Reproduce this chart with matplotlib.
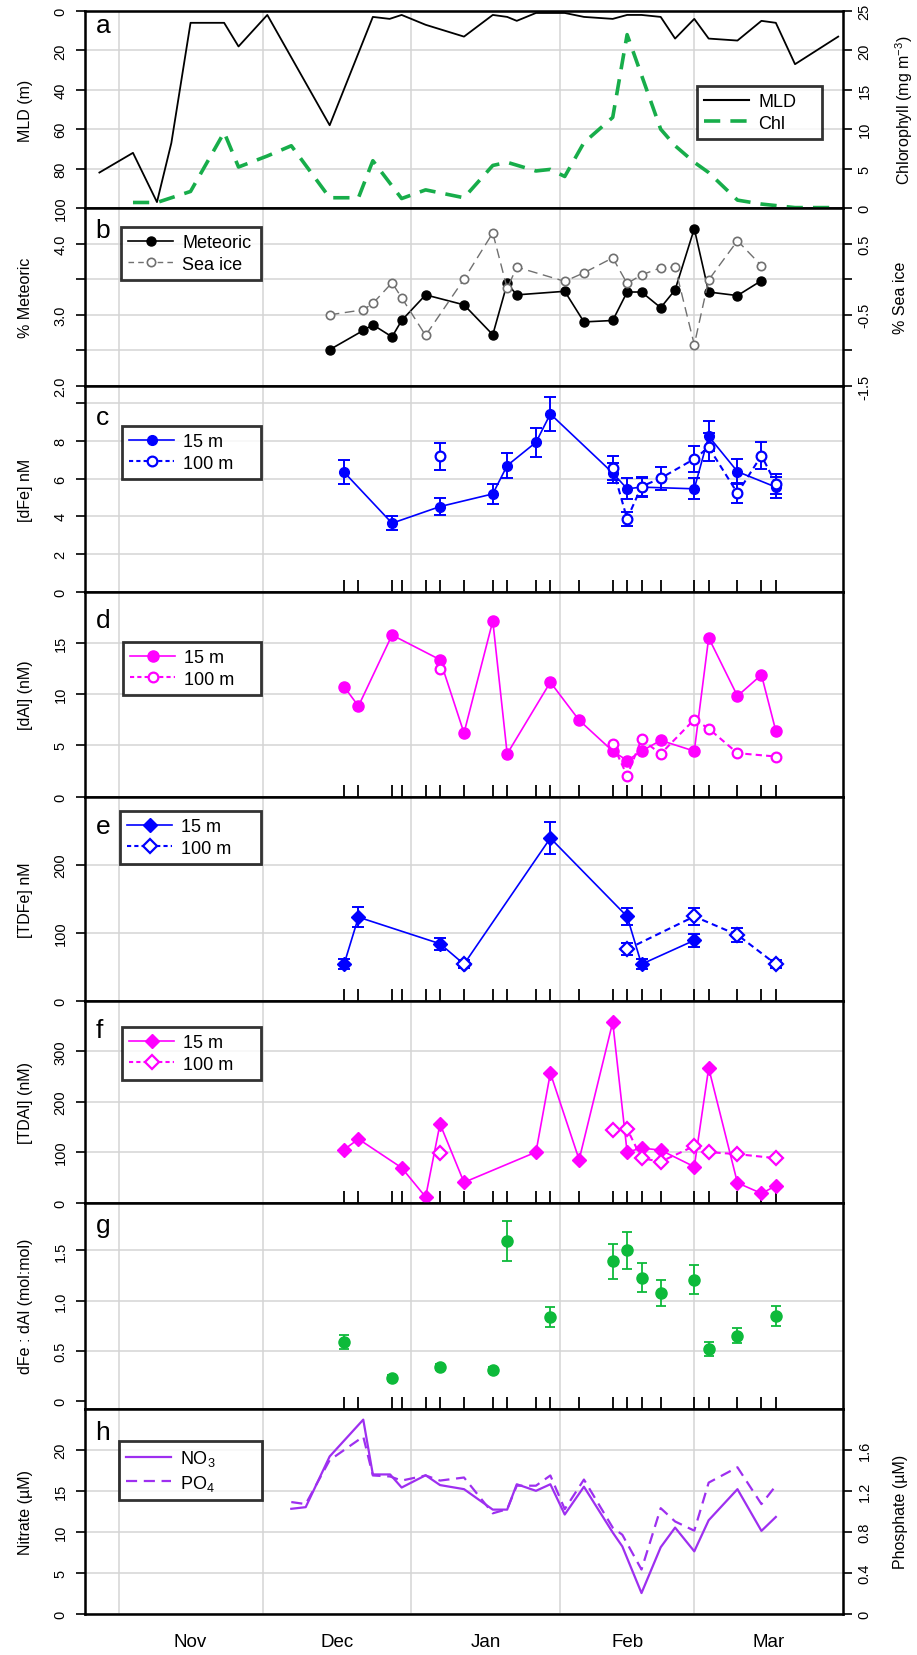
import numpy as np
import matplotlib.pyplot as plt
from matplotlib.lines import Line2D

plt.rcParams['font.family'] = ['Liberation Sans', 'DejaVu Sans']
plt.rcParams['mathtext.fontset'] = 'custom'
plt.rcParams['mathtext.rm'] = 'Liberation Sans'
plt.rcParams['mathtext.default'] = 'regular'

# x axis = days after 1 Nov
month_start = [0, 30, 61, 92, 120]
month_mid = [15, 45.5, 76.5, 106, 135.5]
month_names = ['Nov', 'Dec', 'Jan', 'Feb', 'Mar']

# sampling dates (rug marks)
samp_day = [47, 50, 57, 59, 64, 67, 72, 78, 81, 87, 90, 96, 103, 106, 109, 113, 120, 123, 129, 134, 137]

# a: mixed layer depth and chlorophyll
mld_day = [-4, 3, 8, 11, 15, 22, 25, 31, 44, 53, 56.5, 59, 64, 72, 78, 81, 83, 87, 93, 97,
           103, 106, 109, 113, 116, 120, 123, 129, 134, 137, 141, 150]
mld = [82, 72, 97, 67, 6, 6, 18, 2, 58, 3, 4, 2, 7, 13, 2, 3, 5, 1, 1, 3,
       4, 2, 2, 3, 14, 4, 14, 15, 5, 6, 27, 13]
chl_day = [3, 8, 15, 22, 25, 31, 36, 44, 50, 53, 59, 64, 72, 78, 81, 87, 90, 93, 97,
           103, 106, 113, 116, 120, 123, 129, 134, 141, 150]
chl = [0.7, 0.7, 2.1, 9.6, 5.2, 6.6, 7.9, 1.3, 1.3, 6.0, 1.2, 2.3, 1.3, 5.4, 5.8, 4.7, 4.9, 4.0, 8.3,
       11.5, 22.0, 10.0, 7.9, 5.8, 4.5, 1.0, 0.5, 0.05, 0.05]

# b: meteoric water and sea ice melt
met_day = [44, 51, 53, 57, 59, 64, 72, 78, 81, 83, 93, 97, 103, 106, 109, 113, 116, 120, 123, 129, 134]
meteoric = [2.51, 2.78, 2.86, 2.69, 2.92, 3.28, 3.14, 2.72, 3.44, 3.28, 3.33, 2.90, 2.92, 3.32,
            3.32, 3.10, 3.35, 4.21, 3.32, 3.27, 3.48]
seaice = [-0.50, -0.43, -0.34, -0.05, -0.26, -0.79, 0.0, 0.65, -0.13, 0.17, -0.03, 0.09, 0.30,
          -0.06, 0.06, 0.16, 0.17, -0.92, -0.01, 0.54, 0.19]

# c: dissolved Fe
dfe15_day = [47, 57, 67, 78, 81, 87, 90, 103, 106, 109, 120, 123, 129, 137]
dfe15 = [6.34, 3.64, 4.52, 5.19, 6.69, 7.92, 9.42, 6.3, 5.46, 5.55, 5.46, 8.24, 6.37, 5.55]
dfe15_err = [0.65, 0.36, 0.44, 0.52, 0.65, 0.77, 0.92, 0.55, 0.55, 0.5, 0.56, 0.8, 0.65, 0.55]
dfe100_day = [67, 103, 106, 109, 113, 120, 123, 129, 134, 137]
dfe100 = [7.17, 6.55, 3.87, 5.58, 6.02, 7.04, 7.66, 5.23, 7.22, 5.72]
dfe100_err = [0.7, 0.65, 0.38, 0.5, 0.62, 0.68, 0.73, 0.53, 0.7, 0.53]

# d: dissolved Al
dal15_day = [47, 50, 57, 67, 72, 78, 81, 90, 96, 103, 106, 109, 113, 120, 123, 129, 134, 137]
dal15 = [10.74, 8.84, 15.79, 13.38, 6.21, 17.17, 4.17, 11.18, 7.46, 4.44, 3.52, 4.44, 5.49,
         4.44, 15.52, 9.83, 11.9, 6.41]
dal100_day = [67, 103, 106, 109, 113, 120, 123, 129, 137]
dal100 = [12.46, 5.10, 2.04, 5.59, 4.17, 7.53, 6.64, 4.24, 3.91]

# e: total dissolvable Fe
tdfe15_day = [47, 50, 67, 72, 90, 106, 109, 120]
tdfe15 = [54, 123, 84, 54, 239, 124, 54, 89]
tdfe15_err = [7, 15, 9, 6, 24, 13, 7, 10]
tdfe100_day = [72, 106, 120, 129, 137]
tdfe100 = [54, 76, 124, 97, 54]
tdfe100_err = [6, 8.5, 13, 10, 6]

# f: total dissolvable Al
tdal15_day = [47, 50, 59, 64, 67, 72, 87, 90, 96, 103, 106, 109, 113, 120, 123, 129, 134, 137]
tdal15 = [105, 126, 69, 11, 156, 40, 100, 257, 85, 358, 100, 108, 104, 71, 267, 39, 18, 33]
tdal100_day = [67, 103, 106, 109, 113, 120, 123, 129, 137]
tdal100 = [98, 143, 146, 88, 81, 112, 100, 96, 88]

# g: dFe:dAl ratio
ratio_day = [47, 57, 67, 78, 81, 90, 103, 106, 109, 113, 120, 123, 129, 137]
ratio = [0.59, 0.23, 0.34, 0.31, 1.59, 0.84, 1.39, 1.50, 1.23, 1.08, 1.21, 0.52, 0.65, 0.85]
ratio_err = [0.07, 0.03, 0.03, 0.03, 0.2, 0.1, 0.17, 0.18, 0.145, 0.13, 0.145, 0.07, 0.075, 0.1]

# h: nutrients
nut_day = [36, 39, 44, 51, 53, 56.6, 59, 64, 67, 72, 78, 81, 83, 87, 90, 93, 97, 103, 105,
           109, 113, 116, 120, 123, 129, 134, 137]
nitrate = [12.8, 13.0, 19.2, 23.7, 17.0, 17.0, 15.4, 16.9, 15.7, 15.2, 12.7, 12.7, 15.8, 15.0,
           15.8, 12.1, 15.5, 9.9, 8.2, 2.5, 8.1, 10.5, 7.6, 11.4, 15.2, 10.1, 11.8]
phosphate = [1.09, 1.07, 1.50, 1.73, 1.35, 1.34, 1.30, 1.35, 1.30, 1.33, 0.98, 1.02, 1.25, 1.25,
             1.35, 1.02, 1.31, 0.84, 0.77, 0.43, 1.03, 0.90, 0.81, 1.28, 1.43, 1.07, 1.25]

GRID = '#d4d4d4'
BLUE = '#0000ff'
MAG = '#ff00ff'
GREEN = '#0dba3a'
CHLG = '#17ad4a'
PURP = '#9e2ff0'

W, H = 917, 1656
fig = plt.figure(figsize=(W / 100, H / 100), dpi=100)
X0, X1 = 85, 843


def make_ax(top, bot):
    ax = fig.add_axes([X0 / W, 1 - bot / H, (X1 - X0) / W, (bot - top) / H])
    ax.set_xlim(-7, 151)
    for s in ax.spines.values():
        s.set_linewidth(1.8)
    for m in month_start:
        ax.axvline(m, color=GRID, lw=1.1, zorder=0)
    return ax


def style_y(ax, ticks, labels, ylabel, ylim, right=False, grid=None):
    ax.set_ylim(*ylim)
    ax.set_yticks(ticks, labels)
    ax.tick_params(axis='y', direction='out', length=6.5, width=1.2,
                   pad=4 if right else 6, labelsize=10.5, labelrotation=90)
    for lab in ax.get_yticklabels():
        lab.set_va('center')
    ax.set_ylabel(ylabel, fontsize=11.5)
    if right:
        ax.yaxis.set_label_coords(1.066, 0.5)
    else:
        ax.yaxis.set_label_coords(-0.069, 0.5)
    for g in (ticks if grid is None else grid):
        ax.axhline(g, color=GRID, lw=1.1, zorder=0)


def rug(ax, bottom=False):
    ax.set_xticks(samp_day)
    ax.tick_params(axis='x', direction='inout' if bottom else 'in',
                   length=16 if bottom else 8.5, width=1.3, labelbottom=False)


def letter(ax, s, below):
    ax.text(0.014, 1 - below / ax.bbox.height, s, transform=ax.transAxes,
            fontsize=19, va='baseline', ha='left')


def add_legend(ax, handles, labels, x0, y0, w, fs=13):
    leg = ax.legend(handles, labels, loc='upper left',
                    bbox_to_anchor=(x0 / W, 1 - y0 / H, w / W, 0),
                    bbox_transform=fig.transFigure, mode='expand', frameon=True,
                    fancybox=False, edgecolor='black', fontsize=fs, handlelength=2.5,
                    handletextpad=0.5, borderpad=0.4, labelspacing=0.25, borderaxespad=0)
    leg.get_frame().set_linewidth(2)
    leg.set_zorder(10)
    return leg


# ---------- a ----------
ax = make_ax(12, 209)
ax.plot(mld_day, mld, color='black', lw=1.3)
style_y(ax, [0, 20, 40, 60, 80, 100], ['0', '20', '40', '60', '80', '100'], 'MLD (m)', (100, 0))
ax.set_xticks([])
ax2 = ax.twinx()
ax2.plot(chl_day, chl, color=CHLG, lw=2.6, dashes=(4.5, 2.8))
style_y(ax2, [0, 5, 10, 15, 20, 25], ['0', '5', '10', '15', '20', '25'],
        'Chlorophyll (mg m$^{-3}$)', (0, 25), right=True, grid=[])
ax2.set_xticks([])
letter(ax, 'a', 21)
add_legend(ax2, [Line2D([], [], color='black', lw=1.5),
                 Line2D([], [], color=CHLG, lw=2.6, dashes=(4.5, 2.8))],
           ['MLD', 'Chl'], 697, 87, 125)

# ---------- b ----------
ax = make_ax(209, 387)
ax.plot(met_day, meteoric, '-o', color='black', lw=1.2, ms=6.5, zorder=3)
style_y(ax, [2.0, 2.5, 3.0, 3.5, 4.0], ['2.0', '', '3.0', '', '4.0'], '% Meteoric', (2.0, 4.5))
rug(ax)
ax2 = ax.twinx()
ax2.plot(met_day, seaice, '-o', color='#707070', lw=1.0, dashes=(7, 4), ms=6,
         mfc='white', mec='#707070', mew=1.2)
style_y(ax2, [-1.5, -1.0, -0.5, 0.0, 0.5], ['-1.5', '', '-0.5', '', '0.5'], '% Sea ice',
        (-1.5, 1.0), right=True, grid=[])
ax2.set_xticks([])
letter(ax, 'b', 29)
add_legend(ax2, [Line2D([], [], color='black', lw=1.2, marker='o', ms=6.5),
                 Line2D([], [], color='#707070', lw=1.0, dashes=(4, 3), marker='o', ms=6,
                        mfc='white', mew=1.2)],
           ['Meteoric', 'Sea ice'], 121, 228, 140)

# ---------- c ----------
ax = make_ax(387, 593)
ax.errorbar(dfe15_day, dfe15, yerr=dfe15_err, fmt='none', ecolor=BLUE, elinewidth=1.4,
            capsize=4, capthick=1.4)
ax.errorbar(dfe100_day, dfe100, yerr=dfe100_err, fmt='none', ecolor=BLUE, elinewidth=1.4,
            capsize=4, capthick=1.4)
ax.plot(dfe15_day, dfe15, '-o', color=BLUE, lw=1.2, ms=7, zorder=3)
ax.plot(dfe100_day[1:], dfe100[1:], color=BLUE, lw=1.5, dashes=(3, 2), zorder=3)
ax.plot(dfe100_day, dfe100, 'o', color=BLUE, ms=7, mfc='white', mew=1.6, zorder=4)
style_y(ax, [0, 2, 4, 6, 8, 10], ['0', '2', '4', '6', '8', ''], '[dFe] nM', (0, 10.9))
rug(ax)
letter(ax, 'c', 38)
add_legend(ax, [Line2D([], [], color=BLUE, lw=1.2, marker='o', ms=7),
                Line2D([], [], color=BLUE, lw=1.5, dashes=(2, 1.5), marker='o', ms=7,
                       mfc='white', mew=1.6)],
           ['15 m', '100 m'], 122, 427, 139)

# ---------- d ----------
ax = make_ax(593, 797.5)
ax.plot(dal15_day, dal15, '-o', color=MAG, lw=1.2, ms=8, zorder=3)
ax.plot(dal100_day[1:], dal100[1:], color=MAG, lw=1.5, dashes=(3, 2), zorder=3)
ax.plot(dal100_day, dal100, 'o', color=MAG, ms=7, mfc='white', mew=1.6, zorder=4)
style_y(ax, [0, 5, 10, 15], ['0', '5', '10', '15'], '[dAl] (nM)', (0, 20))
rug(ax)
letter(ax, 'd', 35)
add_legend(ax, [Line2D([], [], color=MAG, lw=1.2, marker='o', ms=8),
                Line2D([], [], color=MAG, lw=1.5, dashes=(2, 1.5), marker='o', ms=7,
                       mfc='white', mew=1.6)],
           ['15 m', '100 m'], 123, 643, 138)

# ---------- e ----------
ax = make_ax(797.5, 1002)
ax.errorbar(tdfe15_day, tdfe15, yerr=tdfe15_err, fmt='none', ecolor=BLUE, elinewidth=1.4,
            capsize=4, capthick=1.4)
ax.errorbar(tdfe100_day, tdfe100, yerr=tdfe100_err, fmt='none', ecolor=BLUE, elinewidth=1.4,
            capsize=4, capthick=1.4)
ax.plot(tdfe15_day, tdfe15, '-D', color=BLUE, lw=1.2, ms=7, zorder=3)
ax.plot(tdfe100_day[1:], tdfe100[1:], color=BLUE, lw=1.5, dashes=(3, 2), zorder=3)
ax.plot(tdfe100_day, tdfe100, 'D', color=BLUE, ms=7, mfc='white', mew=1.6, zorder=4)
style_y(ax, [0, 100, 200], ['0', '100', '200'], '[TDFe] nM', (0, 300))
rug(ax)
letter(ax, 'e', 36)
add_legend(ax, [Line2D([], [], color=BLUE, lw=1.2, marker='D', ms=7),
                Line2D([], [], color=BLUE, lw=1.5, dashes=(2, 1.5), marker='D', ms=7,
                       mfc='white', mew=1.6)],
           ['15 m', '100 m'], 120, 812, 141)

# ---------- f ----------
ax = make_ax(1002, 1203.5)
ax.plot(tdal15_day, tdal15, '-D', color=MAG, lw=1.2, ms=7, zorder=3)
ax.plot(tdal100_day[1:], tdal100[1:], color=MAG, lw=1.5, dashes=(3, 2), zorder=3)
ax.plot(tdal100_day, tdal100, 'D', color=MAG, ms=7, mfc='white', mew=1.6, zorder=4)
style_y(ax, [0, 100, 200, 300], ['0', '100', '200', '300'], '[TDAl] (nM)', (0, 400))
rug(ax)
letter(ax, 'f', 36)
add_legend(ax, [Line2D([], [], color=MAG, lw=1.2, marker='D', ms=7),
                Line2D([], [], color=MAG, lw=1.5, dashes=(2, 1.5), marker='D', ms=7,
                       mfc='white', mew=1.6)],
           ['15 m', '100 m'], 122, 1028, 139)

# ---------- g ----------
ax = make_ax(1203.5, 1410)
ax.errorbar(ratio_day, ratio, yerr=ratio_err, fmt='o', color=GREEN, ms=8, elinewidth=1.3,
            capsize=3.5, capthick=1.3, zorder=3)
style_y(ax, [0, 0.5, 1.0, 1.5], ['0', '0.5', '1.0', '1.5'], 'dFe : dAl (mol:mol)',
        (-0.076, 1.976), grid=[0.5, 1.0, 1.5])
rug(ax)
letter(ax, 'g', 30)

# ---------- h ----------
ax = make_ax(1410, 1614.5)
ax.plot(nut_day, nitrate, color=PURP, lw=1.6)
style_y(ax, [0, 5, 10, 15, 20], ['0', '5', '10', '15', '20'], 'Nitrate (µM)', (0, 25))
rug(ax, bottom=True)
for m, name in zip(month_mid, month_names):
    ax.text(m, -0.135, name, transform=ax.get_xaxis_transform(), ha='center', va='center',
            fontsize=13.5)
ax2 = ax.twinx()
ax2.plot(nut_day, phosphate, color=PURP, lw=1.6, dashes=(5, 3))
style_y(ax2, [0, 0.4, 0.8, 1.2, 1.6], ['0', '0.4', '0.8', '1.2', '1.6'], 'Phosphate (µM)',
        (0, 2.0), right=True, grid=[])
ax2.set_xticks([])
letter(ax, 'h', 30)
add_legend(ax2, [Line2D([], [], color=PURP, lw=1.6),
                 Line2D([], [], color=PURP, lw=1.6, dashes=(5, 3))],
           ['NO$_3$', 'PO$_4$'], 119, 1442, 143)

fig.savefig('out.png', dpi=100)
